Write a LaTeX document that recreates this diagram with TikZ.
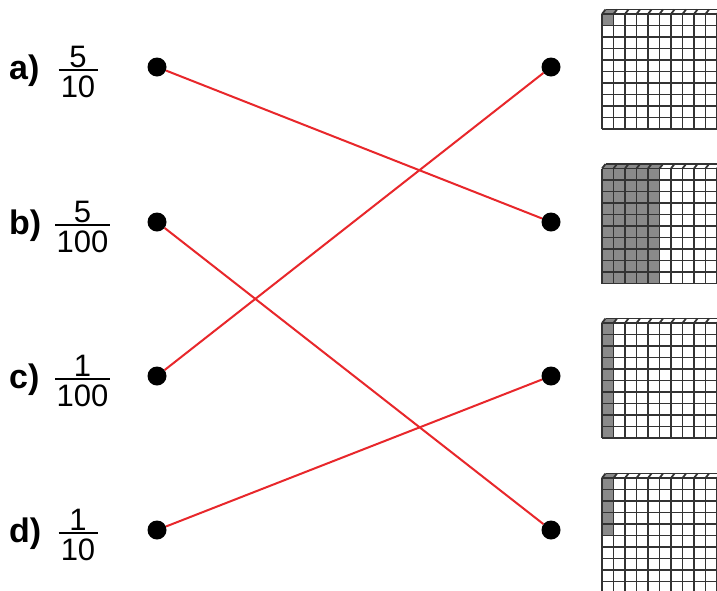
\documentclass[tikz,border=0pt]{standalone}
\usepackage{fontspec}
\setmainfont{Liberation Sans}
\definecolor{matchred}{HTML}{E8272B}
\definecolor{cubegray}{HTML}{8A8A8A}
\newcommand\hgrid[3]{%
  \fill[cubegray] (602,#1) rectangle ++(#2*11.5,#3*11.5);
  \fill[cubegray] (602,#1) -- ++(3.5,-4.5) -- ++(#2*11.5,0) -- ++(-3.5,4.5) -- cycle;
  \foreach \i in {0,...,10} {
    \draw[gridline] (602+\i*11.5,#1) -- ++(0,115);
    \draw[gridline] (602+\i*11.5,#1) -- ++(3.5,-4.5);
  }
  \foreach \j in {0,...,10} \draw[gridline] (602,#1+\j*11.5) -- ++(115,0);
  \draw[gridline] (605.5,#1-4.5) -- ++(115,0);
}
\newcommand\myfrac[6]{% name, cx, rowy, num, den, barwidth
  \node[num] (#1n) at (#2,#3) {#4};
  \node[num] (#1d) at (#2,#3+30) {#5};
  \draw[line width=2.6pt] (#2-#6/2,#3+3) -- (#2+#6/2,#3+3);
}
\begin{document}
\begin{tikzpicture}[x=1pt,y=-1pt,
  dot/.style={circle,fill=black,inner sep=0pt,minimum size=19pt},
  match/.style={draw=matchred,line width=2pt},
  gridline/.style={draw=black!80,line width=1.8pt},
  lbl/.style={font=\fontsize{34}{34}\selectfont\bfseries,anchor=base west,inner sep=0pt},
  num/.style={font=\fontsize{31}{31}\selectfont,anchor=base,inner sep=0pt}]
\useasboundingbox (0,0) rectangle (717,590);
\clip (0,0) rectangle (717,590);
\fill[white] (0,0) rectangle (717,590);
% labels
\node[lbl] (la) at (9,79) {a)};
\node[lbl] (lb) at (9,234) {b)};
\node[lbl] (lc) at (9,388) {c)};
\node[lbl] (ld) at (9,542) {d)};
\myfrac{fa}{78}{67}{5}{10}{39}
\myfrac{fb}{82.5}{222}{5}{100}{55}
\myfrac{fc}{82.5}{376}{1}{100}{55}
\myfrac{fd}{78}{530}{1}{10}{39}
% grids
\hgrid{14}{1}{1}
\hgrid{168.5}{5}{10}
\hgrid{323}{1}{10}
\hgrid{478}{1}{5}
% dots
\node[dot] (A) at (157,67) {};
\node[dot] (B) at (157,222) {};
\node[dot] (C) at (157,376) {};
\node[dot] (D) at (157,530) {};
\node[dot] (R1) at (551,67) {};
\node[dot] (R2) at (551,222) {};
\node[dot] (R3) at (551,376) {};
\node[dot] (R4) at (551,530) {};
% connectors
\draw[match] (A) -- (R2);
\draw[match] (B) -- (R4);
\draw[match] (C) -- (R1);
\draw[match] (D) -- (R3);
\end{tikzpicture}
\end{document}
